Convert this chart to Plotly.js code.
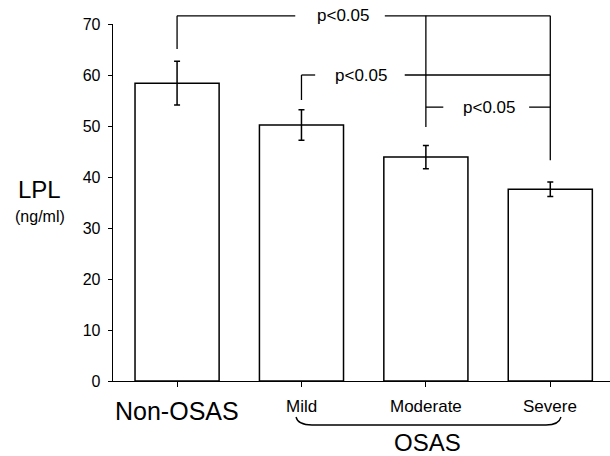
<!DOCTYPE html>
<html>
<head>
<meta charset="utf-8">
<script src="https://cdn.plot.ly/plotly-3.0.1.min.js"></script>
<style>html,body{margin:0;padding:0;background:#fff;}#chart{width:610px;height:456px;}</style>
</head>
<body>
<div id="chart"></div>
<script>
// ---- data ----
var categories = ['Non-OSAS', 'Mild', 'Moderate', 'Severe'];
var lplMean = [58.4, 50.2, 43.9, 37.6];
var lplErr = [4.3, 3.0, 2.3, 1.4];
var yTicks = [0, 10, 20, 30, 40, 50, 60, 70];
var groupLabel = 'OSAS';
var pText = 'p<0.05';

// ---- layout geometry ----
var W = 610, H = 456;
var M = {l: 113, r: 0, t: 24, b: 75};
var X0 = -0.515, X1 = 3.48;
var YMAX = 70;
var FONT = 'Liberation Sans, Arial, Helvetica, sans-serif';

function xp(i) { return (i - X0) / (X1 - X0); }
function yp(v) { return v / YMAX; }
function pxX(px) { return (px - M.l) / (W - M.l - M.r); }
function pxY(py) { return (H - M.b - py) / (H - M.t - M.b); }

var shapes = [];
var annotations = [];
function seg(x0, y0, x1, y1) {
  shapes.push({type: 'line', xref: 'paper', yref: 'paper',
    x0: xp(x0), y0: yp(y0), x1: xp(x1), y1: yp(y1),
    line: {color: '#000', width: 1.3}});
}
function ptext(x, y) {
  annotations.push({xref: 'paper', yref: 'paper', x: xp(x), y: yp(y),
    text: pText, showarrow: false, xanchor: 'center', yanchor: 'middle',
    font: {family: FONT, size: 17, color: '#000'}});
}

// significance brackets (annotation geometry, category index / value units)
var top1 = 71.6, top2 = 60.0, top3 = 53.7;
// bracket 1: Non-OSAS vs Severe
seg(0, 65.1, 0, top1);
seg(0, top1, 0.95, top1);
ptext(1.335, top1);
seg(1.67, top1, 3, top1);
seg(3, top1, 3, 43.3);
// Moderate vertical
seg(2, top1, 2, 49.8);
// bracket 2: Mild vs Severe
seg(1, 55.1, 1, top2);
seg(1, top2, 1.11, top2);
ptext(1.48, top2);
seg(1.83, top2, 3, top2);
// bracket 3: Moderate vs Severe
seg(2, top3, 2.14, top3);
ptext(2.51, top3);
seg(2.83, top3, 3, top3);

// category labels
categories.forEach(function (c, i) {
  var big = (i === 0);
  annotations.push({xref: 'x', yref: 'paper', x: i, y: pxY(big ? 411 : 406),
    text: c, showarrow: false, xanchor: 'center', yanchor: 'middle',
    font: {family: FONT, size: big ? 25 : 17, color: '#000'}});
});
// OSAS group label + brace
annotations.push({xref: 'paper', yref: 'paper', x: pxX(427), y: pxY(442),
  text: groupLabel, showarrow: false, xanchor: 'center', yanchor: 'middle',
  font: {family: FONT, size: 24, color: '#000'}});
function P(px, py) { return pxX(px).toFixed(5) + ',' + pxY(py).toFixed(5); }
shapes.push({type: 'path', xref: 'paper', yref: 'paper',
  path: 'M' + P(296, 417) + ' Q' + P(298, 425) + ' ' + P(312, 425) +
        ' L' + P(546, 425) + ' Q' + P(559, 425) + ' ' + P(561, 417),
  line: {color: '#000', width: 1.3}});

// y axis title
annotations.push({xref: 'paper', yref: 'paper', x: pxX(39), y: pxY(189),
  text: 'LPL', showarrow: false, xanchor: 'center', yanchor: 'middle',
  font: {family: FONT, size: 24, color: '#000'}});
annotations.push({xref: 'paper', yref: 'paper', x: pxX(40), y: pxY(216),
  text: '(ng/ml)', showarrow: false, xanchor: 'center', yanchor: 'middle',
  font: {family: FONT, size: 16, color: '#000'}});

var trace = {
  type: 'bar',
  x: [0, 1, 2, 3],
  y: lplMean,
  width: 0.676,
  marker: {color: '#fff', line: {color: '#000', width: 1.5}},
  error_y: {type: 'data', array: lplErr, visible: true, color: '#000', thickness: 1.5, width: 3},
  hoverinfo: 'skip'
};

var layout = {
  width: W, height: H,
  margin: M,
  paper_bgcolor: '#fff', plot_bgcolor: '#fff',
  showlegend: false,
  font: {family: FONT, color: '#000'},
  xaxis: {range: [X0, X1], tickvals: [0, 1, 2, 3], showticklabels: false,
    ticks: 'outside', ticklen: 5, tickcolor: '#000', showline: true, linecolor: '#000', linewidth: 1.3,
    showgrid: false, zeroline: false, fixedrange: true},
  yaxis: {range: [0, YMAX], tickvals: yTicks, ticks: 'outside', ticklen: 4, tickcolor: '#000',
    ticklabelstandoff: 4,
    showline: true, linecolor: '#000', linewidth: 1.3, showgrid: false, zeroline: false,
    tickfont: {family: FONT, size: 16, color: '#000'}, fixedrange: true},
  shapes: shapes,
  annotations: annotations
};

Plotly.newPlot('chart', [trace], layout, {displayModeBar: false, staticPlot: true});
</script>
</body>
</html>
